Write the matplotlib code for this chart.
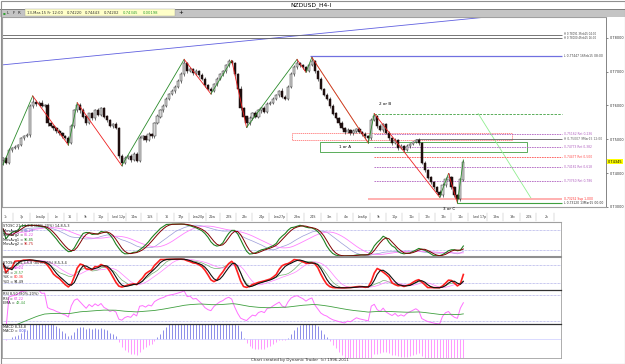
import numpy as np
import pandas as pd
import matplotlib
matplotlib.use("Agg")
import matplotlib.pyplot as plt
from matplotlib.patches import Rectangle
import matplotlib.transforms as mtransforms

# H4 closes, NZDUSD
closes = [
    0.7445, 0.7431, 0.7469, 0.7474, 0.7477, 0.7483, 0.7503, 0.7509, 0.7512, 0.7597,
    0.7611, 0.7605, 0.7608, 0.7599, 0.7602, 0.7547, 0.7538, 0.7533, 0.7524, 0.7518,
    0.7509, 0.7503, 0.7489, 0.7538, 0.7585, 0.7602, 0.7585, 0.7567, 0.7547, 0.7576,
    0.7562, 0.7585, 0.7573, 0.7591, 0.7567, 0.7556, 0.7538, 0.7544, 0.7533, 0.7451,
    0.7431, 0.7445, 0.7451, 0.7440, 0.7457, 0.7437, 0.7503, 0.7509, 0.7498, 0.7515,
    0.7509, 0.7547, 0.7567, 0.7585, 0.7597, 0.7620, 0.7634, 0.7643, 0.7655, 0.7672,
    0.7692, 0.7725, 0.7701, 0.7707, 0.7695, 0.7701, 0.7690, 0.7678, 0.7660, 0.7649,
    0.7643, 0.7663, 0.7678, 0.7692, 0.7701, 0.7719, 0.7730, 0.7724, 0.7692, 0.7649,
    0.7591, 0.7567, 0.7547, 0.7562, 0.7576, 0.7567, 0.7585, 0.7591, 0.7582, 0.7605,
    0.7608, 0.7620, 0.7631, 0.7643, 0.7626, 0.7620, 0.7655, 0.7692, 0.7713, 0.7724,
    0.7718, 0.7712, 0.7703, 0.7719, 0.7730, 0.7701, 0.7678, 0.7649, 0.7631, 0.7620,
    0.7597, 0.7576, 0.7562, 0.7547, 0.7533, 0.7521, 0.7527, 0.7518, 0.7524, 0.7530,
    0.7521, 0.7515, 0.7509, 0.7503, 0.7556, 0.7567, 0.7538, 0.7527, 0.7544, 0.7518,
    0.7503, 0.7489, 0.7498, 0.7474, 0.7480, 0.7469, 0.7480, 0.7486, 0.7492, 0.7498,
    0.7489, 0.7431, 0.7410, 0.7387, 0.7373, 0.7358, 0.7344, 0.7335, 0.7364, 0.7381,
    0.7387, 0.7358, 0.7335, 0.7323, 0.7381, 0.7434,
]
first_open = 0.7438

# wick lengths in pips
up_wick = [
    4, 6, 5, 3, 7, 4, 5, 3, 6, 8,
    17, 5, 4, 7, 3, 6, 4, 5, 3, 6,
    4, 5, 7, 6, 5, 6, 4, 7, 5, 3,
    6, 4, 8, 5, 3, 6, 4, 5, 7, 4,
    6, 5, 3, 7, 4, 6, 8, 5, 4, 6,
    3, 5, 7, 4, 6, 5, 3, 6, 4, 5,
    6, 11, 4, 5, 3, 6, 4, 5, 7, 3,
    5, 4, 6, 3, 5, 4, 6, 3, 5, 4,
    7, 5, 3, 6, 4, 8, 5, 3, 6, 4,
    5, 6, 3, 4, 7, 5, 4, 6, 5, 12,
    4, 3, 5, 4, 12, 5, 4, 6, 3, 5,
    4, 6, 5, 3, 7, 4, 5, 3, 6, 4,
    5, 4, 6, 3, 8, 9, 4, 6, 3, 5,
    6, 4, 5, 3, 6, 4, 5, 3, 4, 3,
    5, 4, 6, 3, 5, 4, 3, 5, 6, 4,
    12, 5, 4, 3, 6, 5,
]
lo_wick = [
    13, 5, 4, 6, 3, 5, 4, 6, 3, 5,
    4, 6, 3, 5, 4, 7, 3, 5, 6, 4,
    5, 3, 6, 4, 5, 3, 6, 4, 5, 3,
    4, 6, 3, 5, 4, 6, 3, 5, 4, 7,
    9, 5, 4, 6, 3, 5, 4, 6, 5, 3,
    4, 6, 3, 5, 4, 3, 5, 4, 6, 3,
    5, 4, 6, 3, 5, 4, 6, 3, 5, 4,
    9, 4, 5, 3, 6, 4, 5, 3, 6, 4,
    5, 3, 12, 6, 4, 5, 3, 6, 4, 5,
    3, 5, 4, 6, 3, 5, 4, 3, 5, 4,
    6, 4, 5, 3, 4, 5, 6, 4, 3, 5,
    4, 5, 3, 6, 4, 5, 3, 6, 4, 5,
    3, 5, 4, 14, 5, 3, 6, 4, 5, 3,
    4, 6, 3, 5, 4, 6, 3, 5, 4, 3,
    5, 4, 6, 3, 5, 4, 3, 6, 4, 5,
    3, 5, 4, 11, 5, 4,
]

# swing pivots (bar index, H/L)
zz_bars = [0, 10, 22, 25, 40, 61, 70, 77, 82, 99, 102, 104, 123, 125, 147, 150, 153, 155]
zz_kind = ["L", "H", "L", "H", "L", "H", "L", "H", "L", "H", "L", "H", "L", "H", "L", "H", "L", "H"]

# retracement / level lines
lvl_labels = ["0,75162 Ret 0,236", "H 0,75007 9Mar15 12:00", "0,74773 Ret 0,382",
              "0,74477 Ret 0,500", "0,74181 Ret 0,618", "0,73760 Ret 0,786"]
lvl_prices = [0.75162, 0.75007, 0.74773, 0.74477, 0.74181, 0.73760]
lvl_colors = ["#b060c0", "#606060", "#b060c0", "#ff5050", "#b060c0", "#b060c0"]
lvl_start = [125, 139, 125, 125, 125, 125]
sup_label = "0,73232 Sup 1,000"
sup_price = 0.73232

date_labels = ["1c", "3p", "Iwa4p", "Iw", "16", "9c", "10p", "Iwd 12p", "14w", "15S", "16",
               "17p", "Iwa20p", "21w", "22S", "23c", "24p", "Iwa27p", "28w", "24S", "3m",
               "4w", "Iwa6p", "9c", "10p", "11c", "12c", "13c", "14c", "Iwd 17p", "18w",
               "19c", "20S", "2k"]
date_bars = [1, 6.5, 12.5, 18, 22.5, 28, 33, 39, 44, 49.5, 55, 60, 66, 70.5, 76, 81.5, 87,
             93, 99, 104.5, 110, 115.5, 121, 126.5, 132, 137.5, 143, 148.5, 154, 160.5,
             166, 171.5, 177, 183]

closes = np.array(closes)
opens = np.concatenate([[first_open], closes[:-1]])
highs = np.maximum(opens, closes) + np.array(up_wick) / 10000
lows = np.minimum(opens, closes) - np.array(lo_wick) / 10000
idx = np.arange(len(closes))

cs = pd.Series(closes)
hs = pd.Series(highs)
ls = pd.Series(lows)


def stoch(n, k_sm, d_sm):
    ll = ls.rolling(n, min_periods=1).min()
    hh = hs.rolling(n, min_periods=1).max()
    raw = 100 * (cs - ll) / (hh - ll)
    k = raw.rolling(k_sm, min_periods=1).mean()
    d = k.rolling(d_sm, min_periods=1).mean()
    return k, d


def rsi(n):
    diff = cs.diff().fillna(0)
    up = diff.clip(lower=0).ewm(alpha=1 / n, adjust=False).mean()
    dn = (-diff.clip(upper=0)).ewm(alpha=1 / n, adjust=False).mean()
    return 100 - 100 / (1 + up / dn.replace(0, 1e-9))


W, H = 625, 364
fig = plt.figure(figsize=(W / 100, H / 100), dpi=100)
fig.patch.set_facecolor("white")


def box(x0, y0, x1, y1):
    return [x0 / W, 1 - y1 / H, (x1 - x0) / W, (y1 - y0) / H]


def xpx(p):
    return (p - 3) / 2.97


def ftext(x, y, s, **kw):
    kw.setdefault("fontsize", 2.9)
    kw.setdefault("va", "center")
    return fig.text(x / W, 1 - y / H, s, **kw)


# title and toolbar
ftext(311, 5, "NZDUSD_H4-I", fontsize=4.3, ha="center")
fig.patches.append(Rectangle((0, 1 - 16.5 / H), 1, 7.5 / H, transform=fig.transFigure,
                             facecolor="#c4c4c4", edgecolor="none"))
fig.patches.append(Rectangle((0, 1 - 9.5 / H), 1, 0.6 / H, transform=fig.transFigure,
                             facecolor="#808080", edgecolor="none"))
fig.patches.append(Rectangle((25 / W, 1 - 16 / H), 150 / W, 6.5 / H, transform=fig.transFigure,
                             facecolor="#ffffc8", edgecolor="#a0a0a0", linewidth=0.3))
ftext(2.5, 13, "▪", color="#30a030", fontsize=3)
ftext(7, 13, "L", color="#202020")
ftext(12.5, 13, "F", color="#202020")
ftext(18, 13, "R", color="#202020")
ftext(27, 13, "13-Mar-15 Fr 12:00", color="#303030", fontsize=2.7)
ftext(67, 13, "0,74220", color="#303030", fontsize=2.7)
ftext(85, 13, "0,74443", color="#303030", fontsize=2.7)
ftext(104, 13, "0,74202", color="#303030", fontsize=2.7)
ftext(123, 13, "0,74345", color="#30a030", fontsize=2.7)
ftext(143, 13, "0,00198", color="#30a030", fontsize=2.7)
ftext(181, 13, "+", fontsize=4, ha="center")

# main price panel
ax = fig.add_axes(box(2, 16.5, 606, 207))
ax.set_xlim(xpx(2), xpx(606))
ax.set_ylim(0.73087, 0.78626)
for s in ["top", "left", "bottom"]:
    ax.spines[s].set_color("#a0a0a0")
    ax.spines[s].set_linewidth(0.8)
ax.spines["right"].set_color("#707070")
ax.spines["right"].set_linewidth(0.6)
ax.yaxis.tick_right()
ax.set_yticks([0.73, 0.74, 0.75, 0.76, 0.77, 0.78])
ax.set_yticklabels(["0,73000", "0,74000", "0,75000", "0,76000", "0,77000", "0,78000"])
ax.tick_params(axis="y", labelsize=2.5, length=1.5, pad=1, width=0.4, colors="#303030")
ax.set_xticks([])

bull = closes >= opens
ax.vlines(idx, lows, highs, color="#202020", linewidth=0.45, zorder=3)
ax.bar(idx[bull], (closes - opens)[bull] + 0.00003, bottom=opens[bull], width=0.75,
       color="#d8d8d8", edgecolor="#303030", linewidth=0.35, zorder=4)
ax.bar(idx[~bull], (opens - closes)[~bull] + 0.00003, bottom=closes[~bull], width=0.75,
       color="#1e0e0e", edgecolor="#1e0e0e", linewidth=0.35, zorder=4)

zz_price = [lows[b] if k == "L" else highs[b] for b, k in zip(zz_bars, zz_kind)]
for j in range(len(zz_bars) - 1):
    c = "#2a8a2a" if zz_kind[j] == "L" else "#ee2020"
    ax.plot(zz_bars[j:j + 2], zz_price[j:j + 2], color=c, linewidth=0.6, zorder=5)

# AB leg and projection (light green)
ax.plot([104, 123], [highs[104], lows[123]], color="#90ee90", linewidth=0.6, zorder=2)
ax.plot([160, 178], [0.7576, 0.7323], color="#90ee90", linewidth=0.6, zorder=2)

# long trendline
ax.plot([-1, 166.3], [0.7719, 0.7864], color="#6060e0", linewidth=0.6)

end = xpx(562)
lab_x = xpx(564)
LFS = 2.2
# old highs
ax.hlines([0.7809, 0.7800], xpx(0), end, color="#606060", linewidth=0.6)
ax.text(lab_x, 0.78045, "H 0,78091 3Feb15 04:00\nH 0,78000 4Feb15 16:00", fontsize=1.9,
        va="center", color="#404040", linespacing=0.9)
ax.hlines(0.7745, 103.4, end, color="#7070e0", linewidth=0.9)
ax.text(lab_x, 0.7745, "L 0,77447 16Feb15 08:00", fontsize=LFS, va="center", color="#404040")
# B level
ax.hlines(highs[125], 125, end, color="#40a040", linewidth=0.6, linestyles=(0, (3, 1.5)))
# retracements
for lab, p, c, st in zip(lvl_labels, lvl_prices, lvl_colors, lvl_start):
    ls_ = "-" if c == "#606060" else (0, (2, 1))
    ax.hlines(p, st, end, color=c, linewidth=0.6, linestyles=ls_)
    ax.text(lab_x, p, lab, fontsize=LFS, va="center", color=c)
ax.hlines(sup_price, 123, end, color="#ffb0b0", linewidth=1.4)
ax.text(lab_x, sup_price + 0.0001, sup_label, fontsize=LFS, va="center", color="#ff3030")
ax.hlines(lows[153], 153, end, color="#40a040", linewidth=0.8)
ax.text(lab_x, lows[153] - 0.00005, "L 0,73120 13Mar15 00:00", fontsize=LFS, va="center",
        color="#303030")

# zones
ax.add_patch(Rectangle((xpx(292), 0.7498), xpx(512) - xpx(292), 0.0020, fill=False,
                       edgecolor="#ff6060", linewidth=0.5, linestyle=(0, (2, 1)), zorder=1))
ax.add_patch(Rectangle((xpx(320), 0.7463), xpx(527) - xpx(320), 0.0029, fill=False,
                       edgecolor="#40a040", linewidth=0.6, zorder=1))
ax.text(115.2, 0.7477, "1 or A", fontsize=3.0, ha="center", va="center")
ax.text(128.6, 0.7605, "2 or B", fontsize=3.0, ha="center", va="center")
ax.text(150.2, 0.7295, "3 or C", fontsize=3.0, ha="center", va="center", clip_on=False)

# last price tag
ax.text(xpx(607.5), closes[-1], "0,74345", fontsize=2.5, va="center", ha="left",
        bbox=dict(boxstyle="square,pad=0.2", facecolor="#ffff00", edgecolor="none"),
        clip_on=False)

# date row
tr = mtransforms.blended_transform_factory(ax.transData, ax.transAxes)
for b, t in zip(date_bars, date_labels):
    ax.text(b, -0.052, t, fontsize=2.4, ha="center", va="center", transform=tr,
            clip_on=False, color="#404040")
    ax.plot([b + 2.5, b + 2.5], [-0.075, -0.03], transform=tr, clip_on=False,
            color="#b0b0b0", linewidth=0.3)

ix0, ix1 = xpx(2), xpx(561)


def panel(y0, y1, ylim, top_color, top_w):
    a = fig.add_axes(box(2, y0, 561, y1))
    a.set_xlim(ix0, ix1)
    a.set_ylim(*ylim)
    a.set_xticks([])
    a.set_yticks([])
    for s in a.spines.values():
        s.set_color("#a0a0a0")
        s.set_linewidth(0.6)
    a.spines["top"].set_color(top_color)
    a.spines["top"].set_linewidth(top_w)
    return a


LEG = 2.5


def legend(title, rows, y_px):
    # title row, then (label, value, colour) rows, value placed right after its label
    ftext(3, y_px[0], title, color="#202020", fontsize=LEG)
    for (lab, val, col), y in zip(rows, y_px[1:]):
        t = ftext(3, y, lab, color="#202020", fontsize=LEG)
        plt.annotate(val, xy=(1, 0.5), xycoords=t, xytext=(0.8, 0), textcoords="offset points",
                     va="center", ha="left", fontsize=LEG, color=col, annotation_clip=False)


# stochastic 1
a1 = panel(222, 257, (-1, 104), "#a0a0a0", 0.8)
k1, d1 = stoch(14, 5, 3)
k2, d2 = stoch(21, 13, 8)
for lv in [80, 20]:
    a1.axhline(lv, color="#9090e0", linewidth=0.5, linestyle=(0, (1, 1)))
a1.plot(idx, k2, color="#9a9ad8", linewidth=0.5)
a1.plot(idx, d2, color="#ff80ff", linewidth=0.6)
a1.plot(idx, k1, color="#208020", linewidth=0.8)
a1.plot(idx, d1, color="#800000", linewidth=0.7)
legend("STOSC 21,13,8,8 (80%-20%) 14,8,5,3",
       [("MovAvg1 =", "69,29", "#6060c0"), ("MovAvg2 =", "85,22", "#e040e0"),
        ("MovAvg1 =", "96,85", "#208020"), ("MovAvg2 =", "96,75", "#c02020")],
       [226, 230.7, 235.2, 239.7, 244.2])

# stochastic 2
a2 = panel(257, 290, (-5, 105), "#909090", 1.5)
k3, d3 = stoch(21, 5, 5)
k4, d4 = stoch(14, 3, 3)
for lv in [80, 20]:
    a2.axhline(lv, color="#9090e0", linewidth=0.5, linestyle=(0, (1, 1)))
a2.plot(idx, k3, color="#70b070", linewidth=0.5)
a2.plot(idx, d3, color="#ff80ff", linewidth=0.5)
a2.plot(idx, k4, color="#ff2020", linewidth=1.2)
a2.plot(idx, d4, color="#101010", linewidth=0.8)
legend("STOSch 14,3,5,8 (80%-20%) 8,5,3,4",
       [("%K =", "40,24", "#e040e0"), ("%D =", "28,57", "#40a040"),
        ("%K =", "80,36", "#ff2020"), ("%D =", "94,49", "#202020")],
       [263.3, 268, 272.7, 277.3, 282])

# RSI
a3 = panel(290, 324, (12, 92), "#303030", 0.9)
r = rsi(8)
for lv in [80, 20]:
    a3.axhline(lv, color="#9090e0", linewidth=0.5, linestyle=(0, (1, 1)))
a3.plot(idx, r, color="#ff70ff", linewidth=0.7)
a3.plot(idx, r.ewm(span=50, adjust=False).mean(), color="#40a040", linewidth=0.6)
legend("RSI 8,50 (80%-20%)",
       [("RSI =", "67,22", "#e040e0"), ("EMA =", "48,44", "#40a040")],
       [294, 298.7, 303.3])

# MACD histogram
a4 = panel(324, 358, (-0.0055, 0.0045), "#303030", 0.9)
macd = cs.ewm(span=8, adjust=False).mean() - cs.ewm(span=34, adjust=False).mean()
mc = np.where(macd >= 0, "#6060e0", "#ff70ff")
a4.vlines(idx, 0, macd, colors=mc, linewidth=0.5)
a4.axhline(0, color="#c0c0ff", linewidth=0.4)
legend("MACD 8,34,8", [("MACD =", "0,08", "#4040e0")], [327, 331.5])

ftext(300, 360.5, "Chart created by Dynamic Trader  (c) 1996-2011", fontsize=2.9,
      ha="center", color="#303030")
fig.patches.append(Rectangle((0.5 / W, 0.5 / H), 1 - 1 / W, 1 - 1 / H, transform=fig.transFigure,
                             fill=False, edgecolor="#909090", linewidth=0.8))

fig.savefig("out.png", dpi=100)
